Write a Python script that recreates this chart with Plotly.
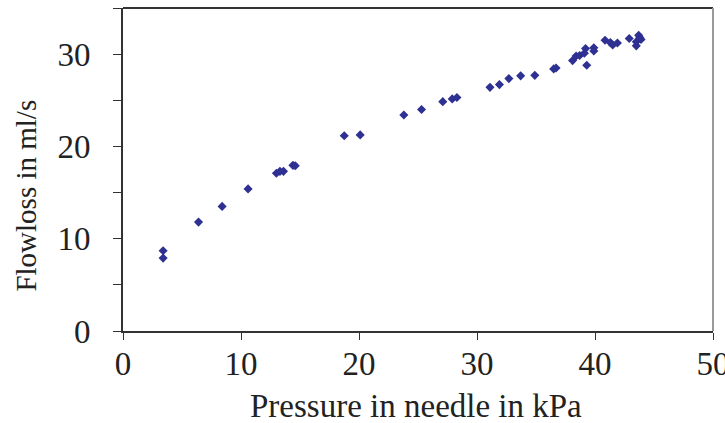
import plotly.graph_objects as go

pressure_kpa = [3.4, 3.4, 6.4, 8.4, 10.6, 13.0, 13.3, 13.6, 14.4, 14.6, 18.75, 20.1,
                23.8, 25.3, 27.1, 27.9, 28.3, 31.1, 31.9, 32.7, 33.7, 34.9, 36.5, 36.7,
                38.1, 38.4, 38.7, 39.1, 39.2, 39.3, 39.9, 39.9, 40.85, 41.3, 41.5, 41.9,
                42.9, 43.5, 43.5, 43.7, 43.8, 43.9]
flowloss_mls = [8.7, 7.9, 11.8, 13.5, 15.4, 17.1, 17.3, 17.3, 17.95, 17.9, 21.15, 21.25,
                23.4, 24.0, 24.85, 25.15, 25.3, 26.4, 26.7, 27.35, 27.65, 27.7, 28.4, 28.5,
                29.3, 29.8, 29.85, 30.1, 30.6, 28.8, 30.7, 30.35, 31.5, 31.25, 31.0, 31.2,
                31.7, 31.35, 30.9, 32.05, 31.8, 31.6]

x_ticks = [0, 10, 20, 30, 40, 50]
y_ticks = [0, 5, 10, 15, 20, 25, 30, 35]
y_tick_text = ["0", "", "10", "", "20", "", "30", ""]

x_title = "Pressure in needle in kPa"
y_title = "Flowloss in ml/s"

font_family = "Liberation Serif, Times New Roman, serif"

fig = go.Figure()
fig.add_trace(go.Scatter(
    x=pressure_kpa, y=flowloss_mls, mode="markers",
    marker=dict(symbol="diamond", size=7, color="#2E3192"),
    showlegend=False,
))

fig.update_layout(
    width=725, height=423,
    margin=dict(l=123, r=12, t=8, b=92, autoexpand=False),
    paper_bgcolor="white", plot_bgcolor="white",
    font=dict(family=font_family, size=26, color="#222"),
    xaxis=dict(
        range=[0, 50], tickvals=x_ticks, ticks="outside", ticklen=7, tickwidth=1,
        tickcolor="#333", showline=True, linecolor="#333", linewidth=2,
        showgrid=False, zeroline=False, ticklabeloverflow="allow", automargin=False,
        ticklabelstandoff=-5,
        tickfont=dict(size=33),
    ),
    yaxis=dict(
        range=[0, 35], tickvals=y_ticks, ticktext=y_tick_text, ticks="outside",
        ticklen=8, tickwidth=1, tickcolor="#333", showline=True, linecolor="#333",
        linewidth=2, showgrid=False, zeroline=False, ticklabelstandoff=16,
        automargin=False,
        tickfont=dict(size=33),
    ),
    annotations=[
        dict(text=y_title, xref="paper", yref="paper", x=-0.164, y=0.42,
             textangle=-90, showarrow=False, xanchor="center", yanchor="middle",
             font=dict(size=29, family=font_family, color="#222")),
        dict(text=x_title, xref="paper", yref="paper", x=0.497, y=-0.232,
             showarrow=False, xanchor="center", yanchor="middle",
             font=dict(size=33, family=font_family, color="#222")),
    ],
    shapes=[
        dict(type="line", xref="paper", yref="paper", x0=0, x1=1, y0=1, y1=1,
             line=dict(color="#333", width=2)),
        dict(type="line", xref="paper", yref="paper", x0=1, x1=1, y0=0, y1=1,
             line=dict(color="#999", width=2)),
    ],
)

fig.write_html("out.html")
